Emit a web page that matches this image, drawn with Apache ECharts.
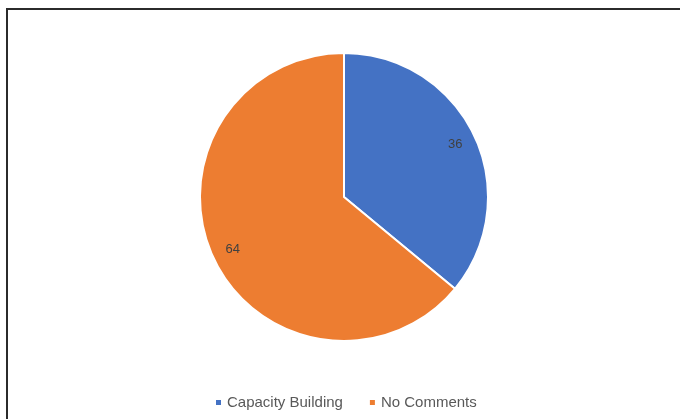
<!DOCTYPE html>
<html>
<head>
<meta charset="utf-8">
<script src="https://cdn.jsdelivr.net/npm/echarts@6/dist/echarts.min.js"></script>
<style>
  html, body { margin: 0; padding: 0; background: #fff; overflow: hidden; }
  #frame { position: absolute; left: 6px; top: 8px; width: 700px; height: 440px;
           border-left: 2px solid #2b2b2b; border-top: 2px solid #2b2b2b; box-sizing: border-box; }
  #chart { position: absolute; left: 0; top: 0; width: 680px; height: 419px; }
</style>
</head>
<body>
<div id="frame"></div>
<div id="chart"></div>
<script>
const categories = ['Capacity Building', 'No Comments'];
const values = [36, 64];
const colors = ['#4472C4', '#ED7D31'];

const pieData = categories.map((name, i) => ({ name, value: values[i], itemStyle: { color: colors[i] } }));

const chart = echarts.init(document.getElementById('chart'), null, { renderer: 'canvas' });
chart.setOption({
  animation: false,
  backgroundColor: 'transparent',
  legend: {
    bottom: 4,
    left: 209,
    itemWidth: 7,
    itemHeight: 7,
    itemGap: 25,
    icon: 'rect',
    textStyle: { fontFamily: 'Liberation Sans', fontSize: 15, color: '#595959' },
    data: categories
  },
  series: [
    {
      type: 'pie',
      center: [344, 197],
      radius: [0, 144],
      startAngle: 90,
      clockwise: true,
      label: { show: false },
      labelLine: { show: false },
      itemStyle: { borderColor: '#fff', borderWidth: 2 },
      emphasis: { disabled: true },
      data: pieData
    },
    {
      // invisible ring used only to place the value labels near the rim
      type: 'pie',
      center: [344, 197],
      radius: [96, 144],
      startAngle: 90,
      clockwise: true,
      silent: true,
      legendHoverLink: false,
      itemStyle: { color: 'transparent', borderWidth: 0 },
      label: {
        show: true,
        position: 'inside',
        formatter: '{c}',
        fontFamily: 'Liberation Sans',
        fontSize: 13,
        color: '#404040'
      },
      labelLine: { show: false },
      emphasis: { disabled: true },
      data: categories.map((name, i) => ({ name: name + ' ', value: values[i] }))
    }
  ]
});
</script>
</body>
</html>
